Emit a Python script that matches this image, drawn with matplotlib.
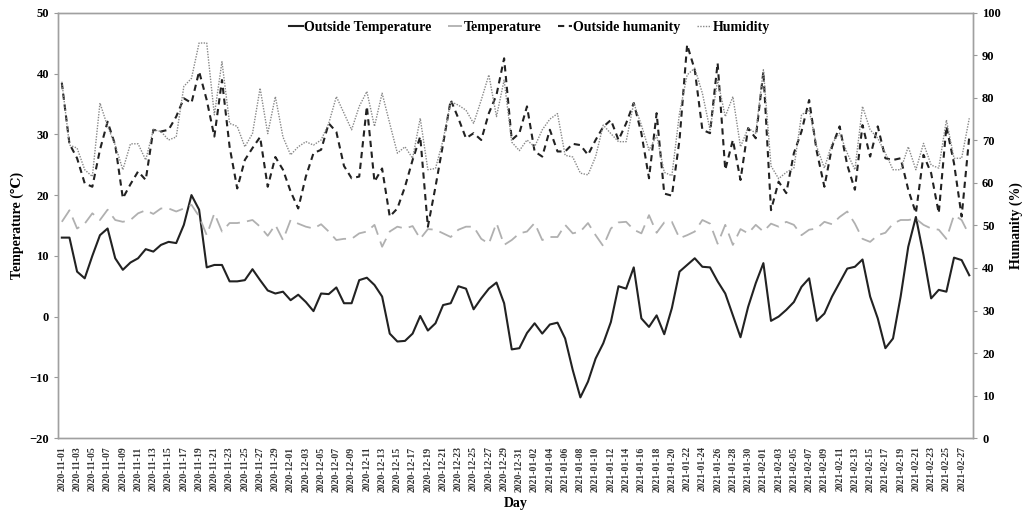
import numpy as np
import pandas as pd
import matplotlib
matplotlib.use("Agg")
import matplotlib.pyplot as plt

plt.rcParams['font.family'] = ['Liberation Serif', 'DejaVu Serif']
plt.rcParams['font.weight'] = 'bold'

# Daily data, 2020-11-01 .. 2021-02-28
days = pd.date_range('2020-11-01', '2021-02-28', freq='D')
day_labels = [d.strftime('%Y-%m-%d') for d in days]

outside_temp = [
    13.0, 13.0, 7.4, 6.3, 10.0, 13.4, 14.5, 9.6, 7.7, 8.9,
    9.6, 11.1, 10.7, 11.8, 12.3, 12.1, 15.1, 20.0, 17.6, 8.1,
    8.5, 8.5, 5.8, 5.8, 6.0, 7.8, 6.0, 4.3, 3.8, 4.1,
    2.7, 3.6, 2.4, 0.9, 3.8, 3.7, 4.8, 2.2, 2.2, 6.0,
    6.4, 5.2, 3.3, -2.8, -4.1, -4.0, -2.8, 0.1, -2.3, -1.1,
    1.9, 2.2, 5.0, 4.6, 1.2, 3.0, 4.6, 5.6, 2.2, -5.4,
    -5.2, -2.7, -1.1, -2.8, -1.3, -1.0, -3.6, -8.8, -13.3, -10.7,
    -6.9, -4.4, -0.9, 5.0, 4.6, 8.1, -0.3, -1.7, 0.2, -2.9,
    1.4, 7.4, 8.5, 9.6, 8.2, 8.1, 5.8, 3.8, 0.2, -3.4,
    1.6, 5.5, 8.8, -0.7, 0.0, 1.1, 2.4, 4.9, 6.3, -0.7,
    0.5, 3.3, 5.6, 7.9, 8.2, 9.4, 3.3, -0.3, -5.2, -3.6,
    3.3, 11.5, 16.4, 10.1, 3.0, 4.4, 4.1, 9.7, 9.3, 6.8,
]

indoor_temp = [
    15.6, 17.5, 14.5, 15.3, 17.0, 15.9, 17.6, 15.9, 15.6, 15.9,
    17.0, 17.5, 16.9, 17.8, 17.8, 17.3, 17.8, 18.4, 16.5, 13.4,
    17.0, 14.0, 15.4, 15.4, 15.6, 15.9, 14.8, 13.3, 15.1, 12.6,
    15.9, 15.3, 14.8, 14.5, 15.2, 14.0, 12.6, 12.8, 12.8, 13.7,
    14.0, 15.1, 11.5, 14.0, 14.8, 14.5, 14.9, 12.8, 14.4, 14.3,
    13.7, 13.1, 14.3, 14.8, 14.8, 12.8, 12.0, 15.4, 11.8, 12.6,
    13.7, 14.0, 15.4, 12.6, 13.1, 13.1, 15.1, 13.7, 14.0, 15.4,
    13.4, 11.6, 14.5, 15.5, 15.6, 14.3, 13.7, 16.7, 13.8, 15.5,
    15.6, 12.9, 13.4, 14.0, 15.9, 15.3, 12.0, 15.1, 11.8, 14.4,
    13.7, 15.1, 14.0, 15.3, 14.8, 15.6, 15.1, 13.4, 14.3, 14.5,
    15.6, 15.2, 16.4, 17.3, 15.3, 12.8, 12.3, 13.4, 13.8, 15.3,
    15.9, 15.9, 16.1, 15.1, 14.5, 14.3, 12.8, 16.7, 15.9, 13.4,
]

outside_hum = [
    83.5, 69.2, 65.8, 59.9, 59.1, 67.8, 74.4, 68.9, 56.4, 59.7,
    62.7, 60.7, 72.5, 72.1, 72.5, 75.6, 79.9, 78.8, 86.2, 79.5,
    70.9, 84.2, 68.5, 58.7, 65.4, 68.2, 70.8, 59.1, 66.1, 63.1,
    58.0, 54.0, 61.5, 67.0, 67.8, 74.0, 72.0, 64.0, 61.1, 61.5,
    78.0, 60.3, 63.4, 52.1, 54.0, 59.1, 65.4, 70.9, 49.7, 59.1,
    69.2, 79.5, 75.2, 70.5, 71.7, 70.1, 76.4, 80.7, 89.3, 70.1,
    71.7, 78.0, 67.4, 66.2, 72.5, 67.4, 67.4, 69.2, 68.9, 66.6,
    70.1, 73.2, 74.8, 70.1, 74.0, 78.8, 71.7, 61.1, 76.4, 57.5,
    57.0, 70.1, 92.5, 86.6, 72.5, 71.7, 88.2, 63.1, 70.1, 60.7,
    72.9, 70.5, 86.2, 53.6, 60.3, 57.6, 67.0, 72.1, 79.5, 67.4,
    59.1, 68.5, 73.3, 64.2, 58.4, 73.6, 66.2, 73.3, 65.8, 65.4,
    65.8, 58.4, 52.9, 66.6, 62.3, 52.9, 73.3, 64.6, 52.1, 70.9,
]

indoor_hum = [
    83.8, 68.9, 68.2, 63.1, 61.5, 78.8, 73.3, 68.9, 63.1, 69.2,
    69.2, 65.4, 72.5, 72.1, 70.1, 70.8, 82.7, 84.6, 92.9, 92.9,
    76.0, 88.5, 74.0, 73.3, 68.5, 71.6, 82.3, 71.6, 80.3, 70.8,
    66.6, 68.5, 69.7, 68.9, 70.1, 74.0, 80.3, 76.4, 72.5, 78.0,
    81.5, 73.3, 81.1, 74.0, 67.0, 68.5, 65.8, 75.2, 63.1, 63.4,
    70.1, 79.1, 78.3, 77.1, 74.0, 79.5, 85.4, 75.6, 84.2, 69.6,
    67.6, 70.1, 68.5, 72.5, 75.0, 76.3, 66.5, 66.1, 62.3, 61.9,
    66.2, 73.6, 71.6, 69.7, 69.7, 78.8, 73.6, 67.7, 71.2, 62.5,
    61.7, 76.4, 85.4, 87.0, 81.1, 72.5, 84.2, 75.6, 80.3, 68.5,
    72.9, 71.7, 86.6, 64.0, 61.0, 62.5, 63.5, 76.0, 77.2, 68.5,
    63.5, 69.3, 71.7, 67.0, 63.1, 78.0, 72.5, 70.5, 67.0, 63.1,
    63.1, 68.5, 63.1, 69.3, 64.2, 63.5, 74.8, 65.8, 65.8, 75.2,
]

x = np.arange(len(days))

fig = plt.figure(figsize=(10.27, 5.13), dpi=100)
ax = fig.add_axes([0.0565, 0.146, 0.891, 0.829])
ax2 = ax.twinx()

l1, = ax.plot(x, outside_temp, color='#222222', lw=1.5, label='Outside Temperature')
l2, = ax.plot(x, indoor_temp, color='#b0b0b0', lw=1.3, dashes=(8, 4), label='Temperature')
l3, = ax2.plot(x, outside_hum, color='#222222', lw=1.5, dashes=(3, 2.2), label='Outside humanity')
l4, = ax2.plot(x, indoor_hum, color='#888888', lw=1.0, ls=(0, (1, 1)), label='Humidity')

ax.set_xlim(-0.5, len(days) - 0.5)
ax.set_ylim(-20, 50)
ax.set_yticks(np.arange(-20, 51, 10))
ax2.set_ylim(0, 100)
ax2.set_yticks(np.arange(0, 101, 10))

ax.set_xticks(x[::2])
ax.set_xticklabels(day_labels[::2], rotation=90, fontsize=7, fontweight='bold', color='#333333')
ax.tick_params(axis='x', length=0, pad=6)
ax.tick_params(axis='y', labelsize=9, length=3, color='#999999')
ax2.tick_params(axis='y', labelsize=9, length=3, color='#999999')

for a in (ax, ax2):
    for s in a.spines.values():
        s.set_color('#a0a0a0')
        s.set_linewidth(1.0)

ax.set_xlabel('Day', fontsize=10, fontweight='bold', labelpad=4)
ax.set_ylabel('Temperature (\u2103)', fontsize=10, fontweight='bold', labelpad=4)
ax2.set_ylabel('Humanity (%)', fontsize=10, fontweight='bold', labelpad=6)

ax.legend(handles=[l1, l2, l3, l4], loc='upper center', bbox_to_anchor=(0.515, 1.01),
          ncol=4, frameon=False, fontsize=10, handlelength=1.0, handletextpad=0.1,
          columnspacing=1.2)

fig.savefig('out.png', dpi=100)
